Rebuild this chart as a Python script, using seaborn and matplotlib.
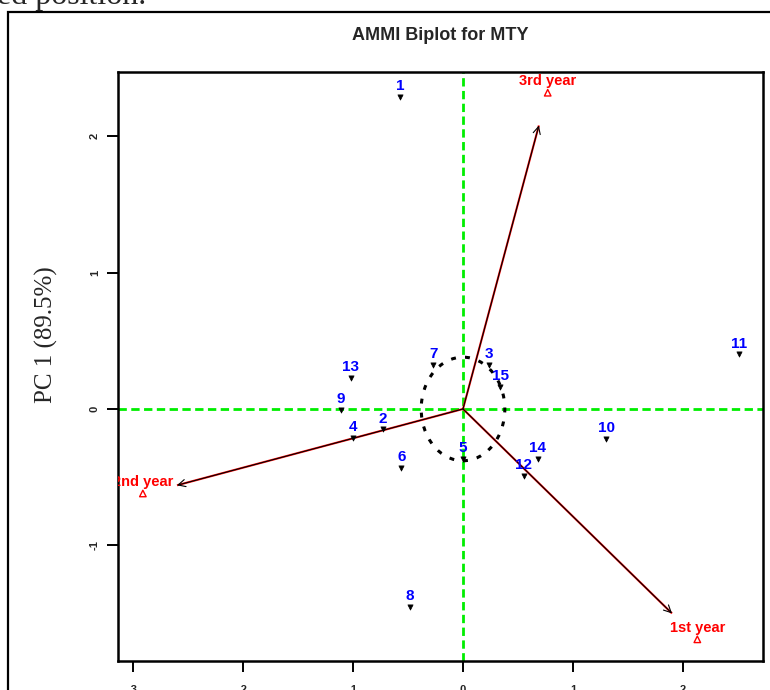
import numpy as np
import pandas as pd
import matplotlib
matplotlib.use("Agg")
import matplotlib.pyplot as plt
from matplotlib.patches import Ellipse, Rectangle
import seaborn as sns

# Genotype scores (PC2 on x, PC1 on y)
genotypes = ["1", "2", "3", "4", "5", "6", "7", "8", "9", "10", "11", "12", "13", "14", "15"]
gen_pc2 = [-0.57, -0.73, 0.24, -1.00, 0.00, -0.56, -0.27, -0.48, -1.11, 1.30, 2.51, 0.55, -1.02, 0.68, 0.34]
gen_pc1 = [2.29, -0.15, 0.32, -0.21, -0.37, -0.43, 0.32, -1.45, -0.01, -0.22, 0.40, -0.49, 0.23, -0.37, 0.16]

# Environment scores and the arrow tips drawn toward them
environments = ["1st year", "2nd year", "3rd year"]
env_pc2 = [2.13, -2.91, 0.77]
env_pc1 = [-1.69, -0.62, 2.32]
arrow_pc2 = [1.90, -2.60, 0.69]
arrow_pc1 = [-1.50, -0.56, 2.08]

circle_radius = 0.38
x_ticks = [-3, -2, -1, 0, 1, 2]
y_ticks = [-1, 0, 1, 2]

gen_df = pd.DataFrame({"genotype": genotypes, "pc2": gen_pc2, "pc1": gen_pc1})
env_df = pd.DataFrame({"env": environments, "pc2": env_pc2, "pc1": env_pc1})

sns.set_theme(style="white")
plt.rcParams["font.family"] = ["Liberation Sans", "DejaVu Sans"]

W, H = 770, 690
fig = plt.figure(figsize=(W / 100, H / 100), dpi=100)
fig.patch.set_facecolor("white")

# Surrounding document frame and running text
fig.patches.append(Rectangle((8 / W, -0.05), 1.1, 1 - 12 / H + 0.05,
                             transform=fig.transFigure, fill=False,
                             edgecolor="black", linewidth=1.6, zorder=0))
fig.text(-0.004, 1 - 4 / H, "ed position.", family="Liberation Serif",
         fontsize=23, va="baseline", ha="left")

ax = fig.add_axes([118 / W, 1 - 661 / H, (763 - 118) / W, (661 - 72) / H])
ax.set_xlim(-3.136, 2.727)
ax.set_ylim(-1.849, 2.472)

# Reference lines through the origin
green = "#00ee00"
ax.axhline(0, color=green, lw=2, ls=(0, (3, 1.6)), zorder=1)
ax.axvline(0, color=green, lw=2, ls=(0, (3, 1.6)), zorder=1)

# Dotted circle around the origin
ax.add_patch(Ellipse((0, 0), 2 * circle_radius, 2 * circle_radius, fill=False,
                     edgecolor="black", lw=2.2, ls=(0, (1.6, 3.0)), zorder=2))

# Environment vectors
for x, y in zip(arrow_pc2, arrow_pc1):
    ax.plot([0, x], [0, y], color="#ff1010", lw=1.5, zorder=3, solid_capstyle="butt")
    ax.annotate("", xy=(x, y), xytext=(0, 0),
                arrowprops=dict(arrowstyle="->", color="black", lw=0.8,
                                mutation_scale=13, shrinkA=0, shrinkB=0),
                zorder=4)

# Genotype markers and labels
sns.scatterplot(data=gen_df, x="pc2", y="pc1", ax=ax, marker="v", s=14,
                color="black", edgecolor="black", linewidth=0.5, zorder=5, legend=False)
for g, x, y in zip(genotypes, gen_pc2, gen_pc1):
    ax.text(x, y + 0.08, g, color="#0000ff", fontsize=11, fontweight="bold",
            ha="center", va="center", clip_on=True, clip_box=ax.bbox, zorder=6)

# Environment markers and labels
sns.scatterplot(data=env_df, x="pc2", y="pc1", ax=ax, marker="^", s=22,
                facecolor="none", edgecolor="red", linewidth=1.0, zorder=5, legend=False)
for e, x, y in zip(environments, env_pc2, env_pc1):
    ax.text(x, y + 0.085, e, color="red", fontsize=10.5, fontweight="bold",
            ha="center", va="center", clip_on=True, clip_box=ax.bbox, zorder=6)

ax.set_title("AMMI Biplot for MTY", fontsize=13, fontweight="bold",
             pad=0, y=1 + (72 - 36) / (661 - 72), va="center")

ax.set_xticks(x_ticks)
ax.set_yticks(y_ticks)
ax.set_xticklabels([str(t) for t in x_ticks], fontsize=8, fontweight="bold")
ax.set_yticklabels([str(t) for t in y_ticks], fontsize=8, fontweight="bold",
                   rotation=90, va="center")
ax.tick_params(axis="x", direction="out", length=8, width=1.4, color="black",
               bottom=True, pad=9)
ax.tick_params(axis="y", direction="out", length=8, width=1.4, color="black",
               left=True, pad=5)
for side in ["top", "right", "bottom", "left"]:
    ax.spines[side].set_visible(True)
    ax.spines[side].set_color("black")
    ax.spines[side].set_linewidth(1.8)

ax.set_xlabel("")
ax.set_ylabel("PC 1 (89.5%)", family="Liberation Serif", fontsize=18)
ax.yaxis.set_label_coords((58 - 118) / 645, (661 - 335) / 589)

fig.savefig("out.png", dpi=100)
